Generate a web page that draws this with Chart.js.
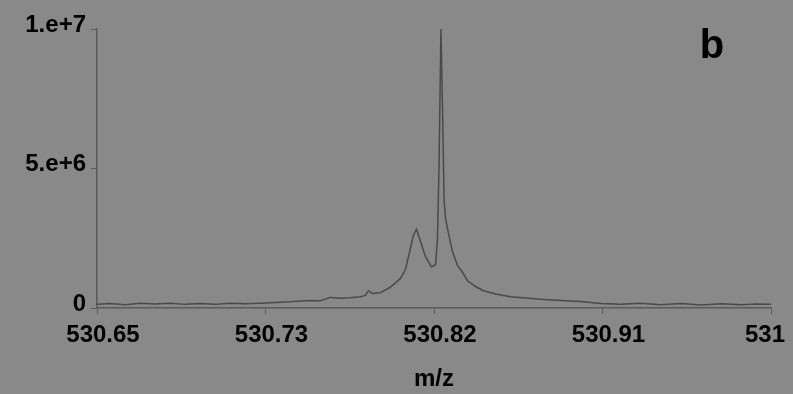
<!DOCTYPE html>
<html>
<head>
<meta charset="utf-8">
<script src="https://cdn.jsdelivr.net/npm/chart.js@4/dist/chart.umd.min.js"></script>
<style>
  html, body { margin: 0; padding: 0; background: #898989; }
  canvas { display: block; background: #898989; }
</style>
</head>
<body>
<canvas id="specChart" width="793" height="394"></canvas>
<script>
// m/z values and intensities
const mz = [
  530.6500, 530.6568, 530.6646, 530.6724, 530.6802, 530.6880, 530.6958, 530.7036,
  530.7114, 530.7192, 530.7270, 530.7348, 530.7426, 530.7504, 530.7556, 530.7608,
  530.7660, 530.7712, 530.7764, 530.7816, 530.7868, 530.7894, 530.7909, 530.7930,
  530.7972, 530.7998, 530.8024, 530.8050, 530.8076, 530.8102, 530.8128, 530.8143,
  530.8159, 530.8180, 530.8206, 530.8237, 530.8258, 530.8268, 530.8276, 530.8286,
  530.8296, 530.8302, 530.8310, 530.8325, 530.8346, 530.8372, 530.8398, 530.8424,
  530.8466, 530.8507, 530.8570, 530.8648, 530.8726, 530.8804, 530.8908, 530.9012,
  530.9116, 530.9220, 530.9324, 530.9428, 530.9532, 530.9636, 530.9740, 530.9844,
  530.9922, 531.0000
];
const intensity = [
  1.3e5, 1.6e5, 1.2e5, 1.7e5, 1.4e5, 1.7e5, 1.3e5, 1.6e5,
  1.3e5, 1.7e5, 1.5e5, 1.7e5, 2.0e5, 2.2e5, 2.5e5, 2.7e5,
  2.6e5, 3.8e5, 3.5e5, 3.7e5, 4.0e5, 4.5e5, 6.2e5, 5.2e5,
  5.5e5, 6.5e5, 7.5e5, 9.0e5, 1.06e6, 1.38e6, 2.15e6, 2.6e6,
  2.82e6, 2.38e6, 1.84e6, 1.47e6, 1.55e6, 2.5e6, 5.0e6, 1.0e7,
  6.5e6, 3.9e6, 3.2e6, 2.68e6, 2.02e6, 1.52e6, 1.28e6, 9.8e5,
  7.7e5, 6.2e5, 5.0e5, 4.0e5, 3.6e5, 3.1e5, 2.7e5, 2.3e5,
  1.6e5, 1.3e5, 1.7e5, 1.2e5, 1.6e5, 1.1e5, 1.5e5, 1.2e5,
  1.4e5, 1.3e5
];

const xTickValues = [530.65, 530.7375, 530.825, 530.9125, 531];
// last label padded so it stays inside the canvas like in the original
const xTickLabels = ['530.65', '530.73', '530.82', '530.91', '531\u2002\u2002'];
const yTickValues = [0, 5e6, 1e7];
const yTickLabels = ['0', '5.e+6', '1.e+7'];

const points = mz.map((m, i) => ({ x: m, y: intensity[i] }));

const tickFont = { family: 'Liberation Sans', size: 24, weight: 'bold' };

// panel letter in the top right corner
const panelLabel = {
  id: 'panelLabel',
  afterDraw(chart) {
    const ctx = chart.ctx;
    ctx.save();
    ctx.fillStyle = '#000';
    ctx.font = 'bold 40px "Liberation Sans"';
    ctx.textAlign = 'center';
    ctx.textBaseline = 'alphabetic';
    ctx.fillText('b', 712, 58);
    ctx.restore();
  }
};

new Chart(document.getElementById('specChart'), {
  type: 'line',
  data: {
    datasets: [{
      data: points,
      borderColor: '#4a4a4a',
      borderWidth: 1.5,
      pointRadius: 0,
      tension: 0,
      fill: false
    }]
  },
  options: {
    responsive: false,
    animation: false,
    layout: { padding: { top: 29, right: 22, bottom: 0, left: 0 } },
    plugins: { legend: { display: false }, tooltip: { enabled: false } },
    scales: {
      x: {
        type: 'linear',
        min: 530.65,
        max: 531,
        afterBuildTicks: (scale) => { scale.ticks = xTickValues.map(v => ({ value: v })); },
        afterFit: (scale) => { scale.height = 86; scale.paddingLeft = 0; scale.paddingRight = 0; },
        ticks: {
          autoSkip: false,
          maxRotation: 0,
          color: '#000',
          font: tickFont,
          padding: 7,
          labelOffset: 6,
          callback: (v, i) => xTickLabels[i]
        },
        grid: { drawOnChartArea: false, tickLength: 6, color: '#5a5a5a', lineWidth: 1 },
        border: { display: true, color: '#5a5a5a', width: 1.5 },
        title: {
          display: true,
          text: 'm/z',
          color: '#000',
          font: tickFont,
          padding: { top: 4, bottom: 0 }
        }
      },
      y: {
        min: 0,
        max: 1e7,
        afterBuildTicks: (scale) => { scale.ticks = yTickValues.map(v => ({ value: v })); },
        afterFit: (scale) => { scale.width = 97; },
        ticks: {
          color: '#000',
          font: tickFont,
          padding: 5,
          labelOffset: -4,
          callback: (v, i) => yTickLabels[i]
        },
        grid: { drawOnChartArea: false, tickLength: 6, color: '#5a5a5a', lineWidth: 1 },
        border: { display: true, color: '#5a5a5a', width: 1.5 }
      }
    }
  },
  plugins: [panelLabel]
});
</script>
</body>
</html>
